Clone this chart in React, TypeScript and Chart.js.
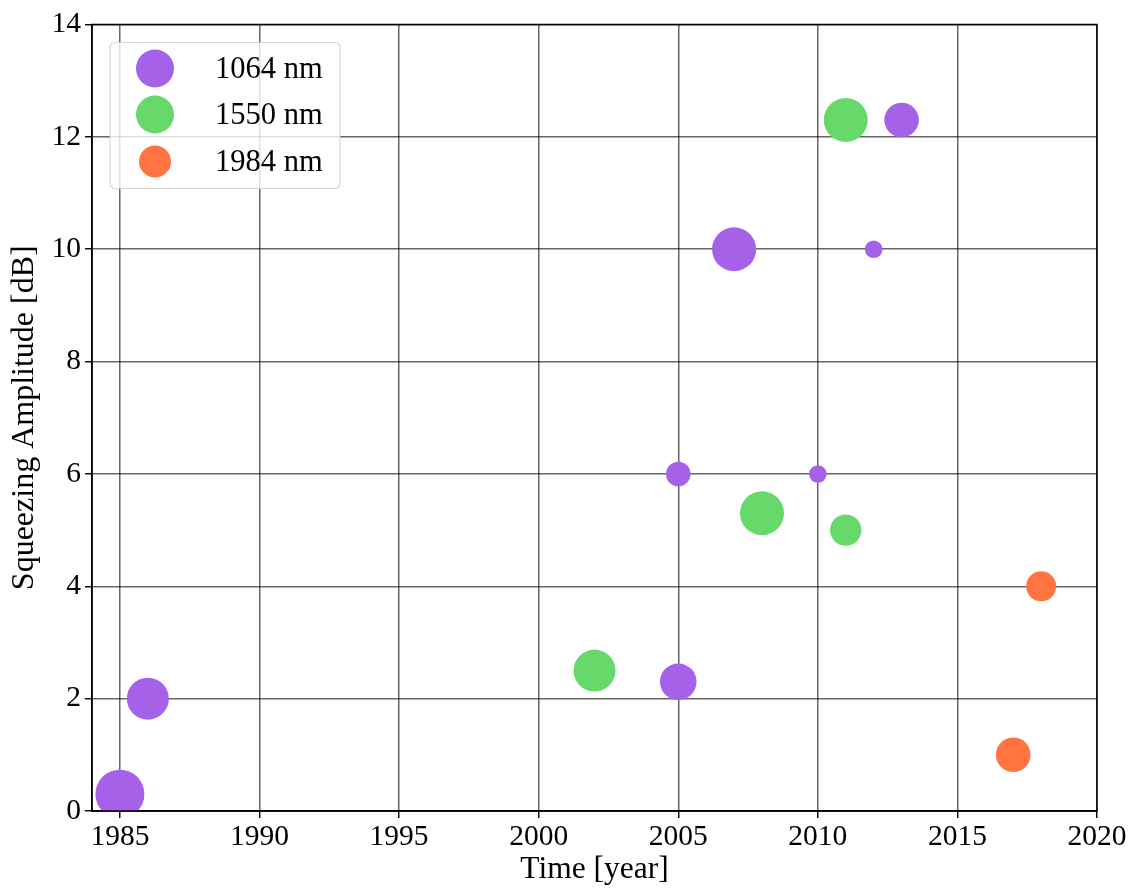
import React, { useEffect, useRef } from "react";
import { Chart, registerables } from "chart.js";

Chart.register(...registerables);

const seriesLabels = ["1064 nm", "1550 nm", "1984 nm"];
const seriesColors = ["rgb(165,98,233)", "rgb(102,217,106)", "rgb(255,116,64)"];

const years1064 = [1985, 1986, 2005, 2005, 2007, 2010, 2012, 2013];
const db1064 = [0.3, 2.0, 6.0, 2.3, 10.0, 6.0, 10.0, 12.3];
const size1064 = [24.5, 21, 12.3, 18.3, 22, 8.8, 8.8, 17.3];

const years1550 = [2002, 2008, 2011, 2011];
const db1550 = [2.5, 5.3, 5.0, 12.3];
const size1550 = [21, 22, 15.7, 22];

const years1984 = [2017, 2018];
const db1984 = [1.0, 4.0];
const size1984 = [17.3, 15];

const xTicks = [1985, 1990, 1995, 2000, 2005, 2010, 2015, 2020];
const yTicks = [0, 2, 4, 6, 8, 10, 12, 14];
const legendMarkerRadii = [19, 19, 16];

const FONT = "'Liberation Serif', 'DejaVu Serif', serif";

function pts(xs: number[], ys: number[], rs: number[]) {
  return xs.map((x, i) => ({ x, y: ys[i], r: rs[i] }));
}

const framePlugin = {
  id: "frame",
  afterDraw(chart: any) {
    const { ctx, chartArea } = chart;
    ctx.save();
    ctx.strokeStyle = "#000";
    ctx.lineWidth = 1.5;
    ctx.strokeRect(chartArea.left, chartArea.top, chartArea.right - chartArea.left, chartArea.bottom - chartArea.top);
    ctx.restore();
  },
};

const legendPlugin = {
  id: "boxLegend",
  afterDraw(chart: any) {
    const { ctx, chartArea } = chart;
    const bx = chartArea.left + 18;
    const by = chartArea.top + 18;
    const bw = 230;
    const bh = 146;
    ctx.save();
    ctx.beginPath();
    ctx.roundRect(bx, by, bw, bh, 5);
    ctx.fillStyle = "rgba(255,255,255,0.8)";
    ctx.fill();
    ctx.strokeStyle = "rgba(204,204,204,0.8)";
    ctx.lineWidth = 1.2;
    ctx.stroke();
    const rowY = [26, 72, 119];
    chart.data.datasets.forEach((ds: any, i: number) => {
      ctx.beginPath();
      ctx.arc(bx + 45, by + rowY[i], legendMarkerRadii[i], 0, Math.PI * 2);
      ctx.fillStyle = ds.backgroundColor;
      ctx.fill();
      ctx.fillStyle = "#000";
      ctx.font = `30.5px ${FONT}`;
      ctx.textBaseline = "middle";
      ctx.textAlign = "left";
      ctx.fillText(ds.label, bx + 105, by + rowY[i] + 1);
    });
    ctx.restore();
  },
};

export default function App() {
  const ref = useRef<HTMLCanvasElement | null>(null);
  useEffect(() => {
    if (!ref.current) return;
    const gridColor = "rgba(0,0,0,0.6)";
    const chart = new Chart(ref.current, {
      type: "bubble",
      data: {
        datasets: [
          { label: seriesLabels[0], data: pts(years1064, db1064, size1064), backgroundColor: seriesColors[0], borderWidth: 0 },
          { label: seriesLabels[1], data: pts(years1550, db1550, size1550), backgroundColor: seriesColors[1], borderWidth: 0 },
          { label: seriesLabels[2], data: pts(years1984, db1984, size1984), backgroundColor: seriesColors[2], borderWidth: 0 },
        ],
      },
      options: {
        responsive: false,
        animation: false,
        layout: { padding: { top: 24, right: 32, left: 0, bottom: 0 } },
        plugins: { legend: { display: false }, tooltip: { enabled: false } },
        scales: {
          x: {
            type: "linear",
            min: 1984,
            max: 2020,
            z: 1,
            afterBuildTicks: (s: any) => { s.ticks = xTicks.map((v) => ({ value: v })); },
            afterFit: (s: any) => { s.height = 78; },
            ticks: { color: "#000", font: { family: FONT, size: 29.5 }, padding: 2, callback: (v: any) => String(v), maxRotation: 0, autoSkip: false },
            grid: { color: gridColor, lineWidth: 1.5, drawTicks: true, tickLength: 7, tickColor: "#000", tickWidth: 1.4 },
            border: { display: true, color: "#000", width: 1.5 },
            title: { display: true, text: "Time [year]", color: "#000", font: { family: FONT, size: 31.5, lineHeight: 1.2 }, padding: { top: 0, bottom: 0 } },
          },
          y: {
            type: "linear",
            min: 0,
            max: 14,
            z: 1,
            afterBuildTicks: (s: any) => { s.ticks = yTicks.map((v) => ({ value: v })); },
            afterFit: (s: any) => { s.width = 92; },
            ticks: { color: "#000", font: { family: FONT, size: 29.5 }, padding: 4, callback: (v: any) => String(v), autoSkip: false },
            grid: { color: gridColor, lineWidth: 1.5, drawTicks: true, tickLength: 7, tickColor: "#000", tickWidth: 1.4 },
            border: { display: true, color: "#000", width: 1.5 },
            title: { display: true, text: "Squeezing Amplitude [dB]", color: "#000", font: { family: FONT, size: 32, lineHeight: 1.2 }, padding: { top: 5, bottom: 0 } },
          },
        },
      },
      plugins: [framePlugin, legendPlugin],
    });
    return () => chart.destroy();
  }, []);
  return (
    <div style={{ position: "fixed", left: 0, top: 0, width: 1129, height: 889, background: "#fff" }}>
      <canvas ref={ref} width={1129} height={889} />
    </div>
  );
}
